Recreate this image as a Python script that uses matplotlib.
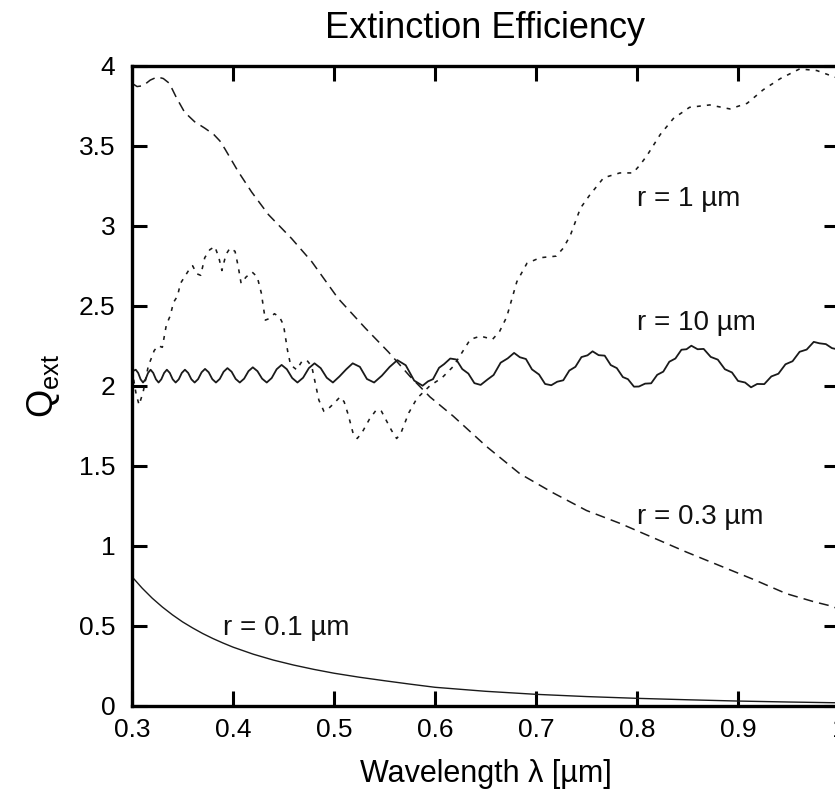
import matplotlib
matplotlib.use("Agg")
import matplotlib.pyplot as plt

plt.rcParams['font.family'] = ['Liberation Sans', 'DejaVu Sans']
plt.rcParams['mathtext.fontset'] = 'custom'
plt.rcParams['mathtext.rm'] = 'Liberation Sans'

# r = 0.1 um
lam01 = [0.300, 0.310, 0.320, 0.330, 0.340, 0.350, 0.360, 0.370, 0.380, 0.390,
         0.400, 0.420, 0.440, 0.460, 0.480, 0.500, 0.525, 0.550, 0.575, 0.600,
         0.650, 0.700, 0.750, 0.800, 0.850, 0.900, 0.950, 1.000]
q01 = [0.806, 0.735, 0.672, 0.617, 0.568, 0.524, 0.486, 0.451, 0.420, 0.392,
       0.366, 0.322, 0.285, 0.254, 0.227, 0.203, 0.178, 0.156, 0.135, 0.115,
       0.090, 0.071, 0.057, 0.046, 0.037, 0.029, 0.023, 0.018]

# r = 0.3 um
lam03 = [0.300, 0.305, 0.311, 0.318, 0.325, 0.331, 0.337, 0.344, 0.352, 0.362,
         0.372, 0.381, 0.387, 0.392, 0.405, 0.4185, 0.435, 0.458, 0.478, 0.504,
         0.531, 0.554, 0.575, 0.595, 0.618, 0.651, 0.684, 0.717, 0.750, 0.783,
         0.816, 0.849, 0.882, 0.915, 0.948, 0.975, 0.994, 1.000]
q03 = [3.89, 3.87, 3.875, 3.91, 3.93, 3.92, 3.89, 3.80, 3.71, 3.65,
       3.61, 3.57, 3.53, 3.48, 3.34, 3.21, 3.07, 2.92, 2.775, 2.546,
       2.36, 2.21, 2.06, 1.93, 1.81, 1.62, 1.45, 1.33, 1.22, 1.14,
       1.05, 0.96, 0.875, 0.79, 0.70, 0.65, 0.62, 0.60]

# r = 1 um
lam1 = [0.300, 0.304, 0.307, 0.311, 0.316, 0.322, 0.326, 0.330, 0.334, 0.338,
        0.341, 0.345, 0.348, 0.352, 0.356, 0.360, 0.364, 0.368, 0.372, 0.377,
        0.382, 0.386, 0.389, 0.393, 0.397, 0.402, 0.405, 0.408, 0.413, 0.419,
        0.424, 0.428, 0.432, 0.436, 0.441, 0.446, 0.450, 0.454, 0.457, 0.463,
        0.468, 0.473, 0.478, 0.482, 0.485, 0.490, 0.495, 0.500, 0.506, 0.510,
        0.514, 0.519, 0.523, 0.528, 0.535, 0.542, 0.547, 0.552, 0.557, 0.562,
        0.566, 0.574, 0.582, 0.595, 0.607, 0.618, 0.626, 0.635, 0.645, 0.657,
        0.664, 0.671, 0.681, 0.691, 0.704, 0.720, 0.727, 0.734, 0.744, 0.753,
        0.767, 0.783, 0.796, 0.803, 0.810, 0.823, 0.836, 0.852, 0.872, 0.892,
        0.909, 0.925, 0.942, 0.961, 0.978, 0.991, 1.000]
q1 = [2.10, 1.95, 1.88, 1.96, 2.12, 2.22, 2.25, 2.24, 2.38, 2.44,
      2.52, 2.56, 2.64, 2.68, 2.72, 2.75, 2.70, 2.69, 2.80, 2.85,
      2.87, 2.80, 2.72, 2.82, 2.86, 2.84, 2.75, 2.64, 2.68, 2.71,
      2.68, 2.58, 2.41, 2.42, 2.45, 2.43, 2.38, 2.22, 2.13, 2.10,
      2.15, 2.16, 2.12, 2.00, 1.91, 1.84, 1.86, 1.89, 1.93, 1.90,
      1.82, 1.70, 1.67, 1.71, 1.79, 1.85, 1.84, 1.78, 1.72, 1.67,
      1.70, 1.83, 1.92, 2.00, 2.05, 2.12, 2.20, 2.29, 2.31, 2.29,
      2.34, 2.43, 2.65, 2.765, 2.80, 2.81, 2.86, 2.94, 3.11, 3.19,
      3.30, 3.33, 3.33, 3.38, 3.44, 3.57, 3.67, 3.74, 3.755, 3.73,
      3.765, 3.85, 3.92, 3.98, 3.97, 3.94, 3.92]

# r = 10 um
lam10 = [0.300, 0.3037,
         0.3061, 0.3085, 0.3109, 0.3134, 0.3159, 0.3184,
         0.3210, 0.3237, 0.3263, 0.3290, 0.3318, 0.3345,
         0.3374, 0.3403, 0.3432, 0.3463, 0.3493, 0.3524,
         0.3556, 0.3588, 0.3620, 0.3654, 0.3689, 0.3723,
         0.3759, 0.3795, 0.3831, 0.3869, 0.3907, 0.3945,
         0.3986, 0.4026, 0.4067, 0.4110, 0.4153, 0.4196,
         0.4242, 0.4288, 0.4334, 0.4383, 0.4432, 0.4481,
         0.4533, 0.4586, 0.4638, 0.4694, 0.4751, 0.4807,
         0.4868, 0.4928, 0.4989, 0.5054, 0.5120, 0.5185,
         0.5256, 0.5326, 0.5397, 0.5474, 0.5550, 0.5627,
         0.5710, 0.5794, 0.5877,
         0.593, 0.598, 0.604, 0.609, 0.6151,
         0.621, 0.627, 0.633, 0.639, 0.6452,
         0.652, 0.658, 0.665, 0.672, 0.6783,
         0.684, 0.690, 0.696, 0.703, 0.709, 0.7151,
         0.721, 0.727, 0.733, 0.739, 0.745, 0.751, 0.756,
         0.762, 0.768, 0.774, 0.780, 0.786, 0.791, 0.797, 0.8019,
         0.808, 0.814, 0.820, 0.826, 0.832, 0.838, 0.844, 0.849, 0.8538,
         0.860, 0.866, 0.873, 0.880, 0.887, 0.894, 0.900, 0.907, 0.9129,
         0.919, 0.926, 0.933, 0.940, 0.947, 0.954, 0.961, 0.968, 0.975, 0.9807,
         0.987, 0.993, 1.000]
q10 = [2.09, 2.10,
       2.08, 2.04, 2.02, 2.04, 2.08, 2.10,
       2.08, 2.04, 2.02, 2.04, 2.08, 2.10,
       2.08, 2.04, 2.02, 2.04, 2.08, 2.10,
       2.08, 2.04, 2.02, 2.041, 2.084, 2.105,
       2.084, 2.041, 2.02, 2.0425, 2.0875, 2.11,
       2.0875, 2.0425, 2.02, 2.044, 2.091, 2.115,
       2.091, 2.044, 2.02, 2.048, 2.103, 2.13,
       2.103, 2.048, 2.02, 2.05, 2.11, 2.14,
       2.11, 2.05, 2.02, 2.058, 2.102, 2.14,
       2.118, 2.042, 2.02, 2.063, 2.117, 2.16,
       2.128, 2.032, 2.00,
       2.027, 2.041, 2.112, 2.135, 2.17,
       2.164, 2.104, 2.076, 2.016, 2.005,
       2.039, 2.067, 2.144, 2.171, 2.205,
       2.178, 2.167, 2.102, 2.07, 2.011, 2.003,
       2.025, 2.034, 2.095, 2.118, 2.179, 2.19, 2.215,
       2.191, 2.188, 2.129, 2.11, 2.054, 2.041, 1.994, 1.995,
       2.013, 2.015, 2.068, 2.088, 2.15, 2.17, 2.225, 2.228, 2.25,
       2.228, 2.23, 2.18, 2.163, 2.103, 2.083, 2.03, 2.02, 1.99,
       2.011, 2.01, 2.058, 2.075, 2.134, 2.153, 2.212, 2.226, 2.274, 2.265,
       2.26, 2.235, 2.225]

labels = ["r = 1 \u00b5m", "r = 10 \u00b5m", "r = 0.3 \u00b5m", "r = 0.1 \u00b5m"]
label_x = [0.800, 0.800, 0.800, 0.390]
label_y = [3.17, 2.39, 1.18, 0.485]

xticks = [0.3, 0.4, 0.5, 0.6, 0.7, 0.8, 0.9, 1.0]
xticklabels = ["0.3", "0.4", "0.5", "0.6", "0.7", "0.8", "0.9", "1"]
yticks = [0, 0.5, 1, 1.5, 2, 2.5, 3, 3.5, 4]
yticklabels = ["0", "0.5", "1", "1.5", "2", "2.5", "3", "3.5", "4"]

fig = plt.figure(figsize=(8.35, 7.93), dpi=100)
ax = fig.add_axes([0.1581, 0.1101, 0.8467, 0.807])

ink = "#1a1a1a"
ax.plot(lam01, q01, color=ink, lw=1.0)
ax.plot(lam03, q03, color=ink, lw=1.1, dashes=(6.5, 4))
ax.plot(lam1, q1, color=ink, lw=1.15, dashes=(2.5, 3.8))
ax.plot(lam10, q10, color=ink, lw=1.3)

for s, x, y in zip(labels, label_x, label_y):
    ax.text(x, y, s, fontsize=20, va="center", ha="left", color="#111")

ax.set_xlim(0.3, 1.0)
ax.set_ylim(0, 4)
ax.set_xticks(xticks)
ax.set_xticklabels(xticklabels)
ax.set_yticks(yticks)
ax.set_yticklabels(yticklabels)
ax.tick_params(direction="in", length=11, width=2.2, top=True, right=True,
               labelsize=19)
ax.tick_params(axis="x", pad=9)
ax.tick_params(axis="y", pad=12)
for sp in ax.spines.values():
    sp.set_linewidth(2.4)

ax.set_title("Extinction Efficiency", fontsize=26, pad=20)
ax.set_xlabel("Wavelength \u03bb [\u00b5m]", fontsize=22, labelpad=12)
ax.set_ylabel(r"Q$_{\mathrm{ext}}$", fontsize=26, labelpad=12)

fig.savefig("out.png", dpi=100)
